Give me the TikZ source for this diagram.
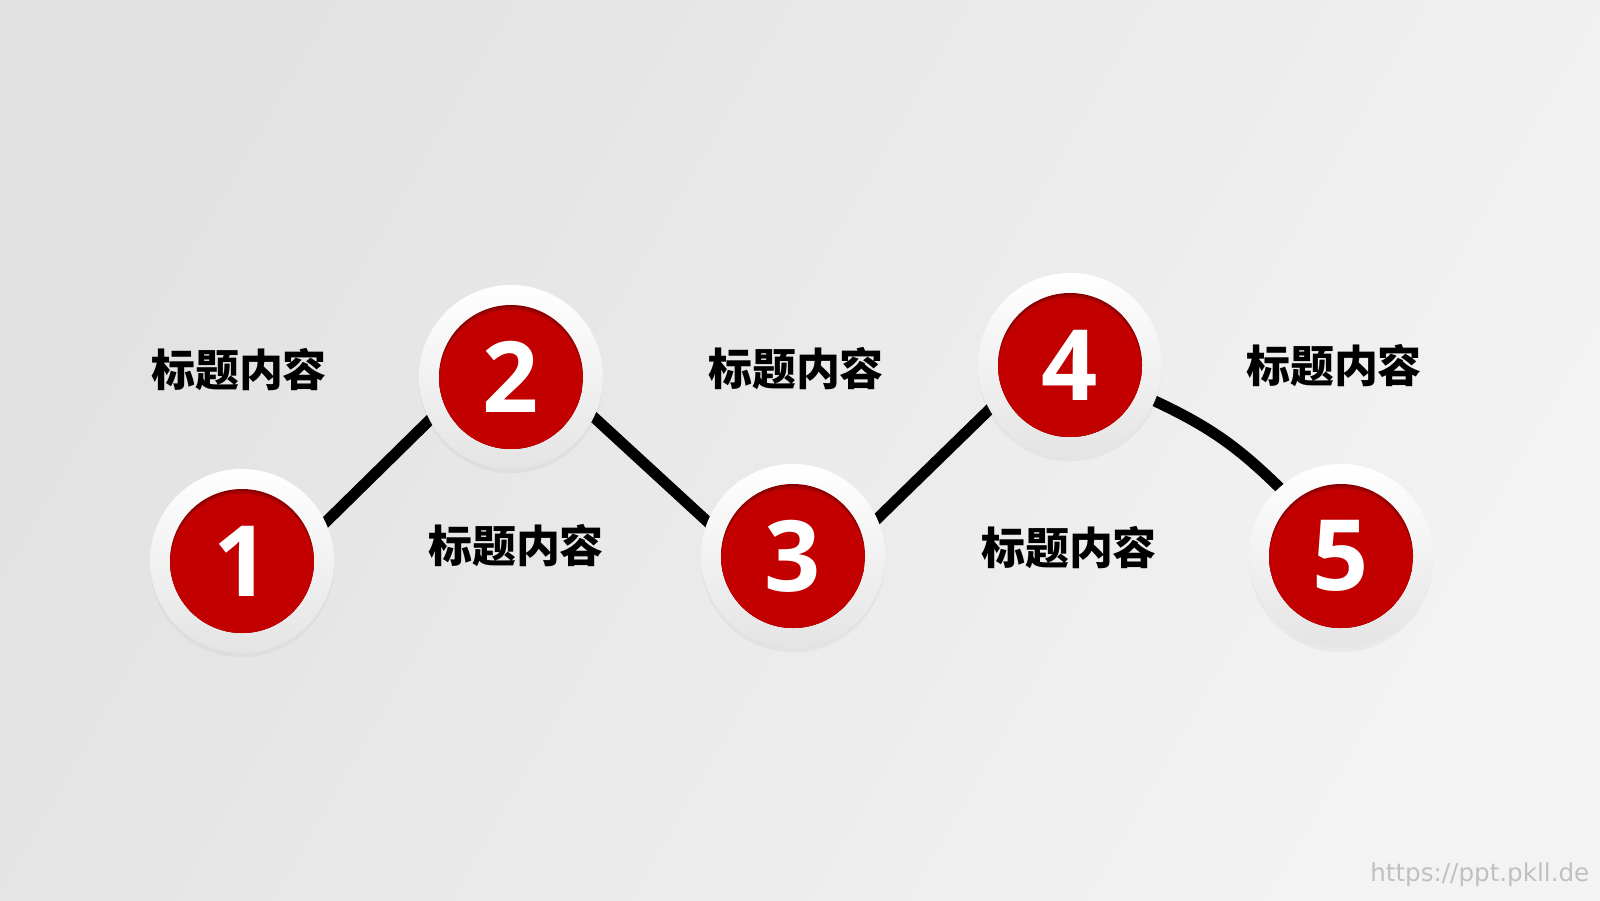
\documentclass[tikz,border=0pt]{standalone}
\usepackage{fontspec}
\setmainfont{Open Sans}
\newfontfamily\cjk{Noto Sans CJK SC}
\newfontfamily\urlfont{DejaVu Sans}
\usetikzlibrary{backgrounds,shadows}

\definecolor{circred}{RGB}{194,0,0}
\definecolor{bgdark}{RGB}{226,226,226}
\definecolor{bglight}{RGB}{243,243,243}
\definecolor{ringgrey}{RGB}{228,228,228}
\definecolor{markgrey}{RGB}{192,192,192}

\begin{document}
\begin{tikzpicture}[
	ring/.style={circle, minimum size=1.84cm, inner sep=0pt, top color=white, bottom color=ringgrey,
		drop shadow={opacity=0.08, shadow xshift=0pt, shadow yshift=-1.2pt}},
	disc/.style={circle, minimum size=1.44cm, inner sep=0pt, fill=circred!70!black, text=white,
		font=\bfseries\fontsize{28}{28}\selectfont,
		path picture={
			\fill[circred!85!black] ([yshift=-0.02cm]path picture bounding box.center) circle (0.72cm);
			\fill[circred] ([yshift=-0.045cm]path picture bounding box.center) circle (0.72cm);
		}},
	title/.style={font=\cjk\bfseries\fontsize{12.5}{15}\selectfont},
	link/.style={line width=0.11cm, black, shorten <=-0.08cm, shorten >=-0.08cm}
]% {{{ STEPS
	\useasboundingbox (0,0) rectangle (16,9);

	\node[ring] (r1) at (2.42,3.39) {};
	\node[ring] (r2) at (5.11,5.23) {};
	\node[ring] (r3) at (7.93,3.44) {};
	\node[ring] (r4) at (10.70,5.35) {};
	\node[ring] (r5) at (13.41,3.44) {};

	\node[disc] (n1) at (r1) {1};
	\node[disc] (n2) at (r2) {2};
	\node[disc] (n3) at (r3) {3};
	\node[disc] (n4) at (r4) {4};
	\node[disc] (n5) at (r5) {5};

	\node[title] (t1) at (2.39,5.30) {标题内容};
	\node[title] (t2) at (5.16,3.54) {标题内容};
	\node[title] (t3) at (7.96,5.31) {标题内容};
	\node[title] (t4) at (10.69,3.52) {标题内容};
	\node[title] (t5) at (13.34,5.34) {标题内容};

	\node[anchor=east, inner sep=0pt, text=markgrey, font=\urlfont\fontsize{7}{7}\selectfont] (mark) at (15.90,0.25) {https://ppt.pkll.de};

	\begin{scope}[on background layer]
		\shade[left color=bgdark, right color=bglight, shading angle=60] (0,0) rectangle (16,9);
		\draw[link] (r1.25) -- (r2.208);
		\draw[link] (r2.334) -- (r3.158);
		\draw[link] (r3.24) -- (r4.209);
		\draw[link] (r4.337) to[bend left=10] (r5.132);
	\end{scope}
\end{tikzpicture}
\end{document}
